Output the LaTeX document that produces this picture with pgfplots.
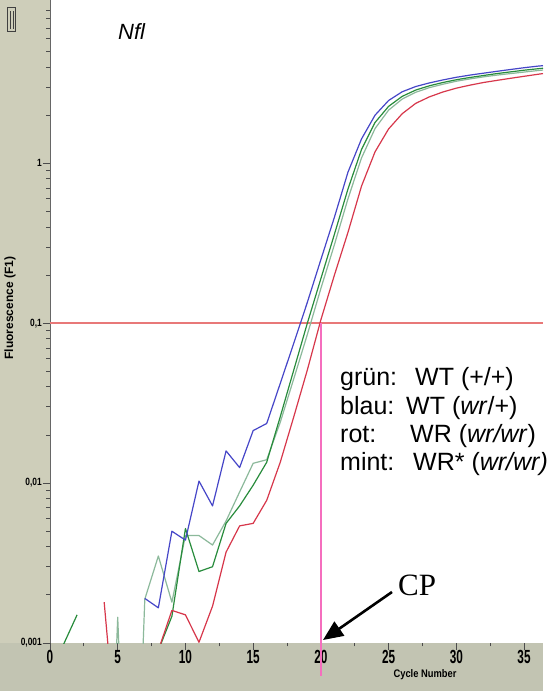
\documentclass[border=0pt]{standalone}
\usepackage{fontspec}
\setmainfont{Liberation Sans}
\newfontfamily\cpfont{Liberation Serif}
\newfontfamily\xtickfont[FakeStretch=0.62]{Liberation Sans}
\newfontfamily\ytickfont[FakeStretch=0.8]{Liberation Sans}
\usepackage{pgfplots}
\pgfplotsset{compat=1.18}
\usetikzlibrary{arrows.meta}
\definecolor{stripL}{RGB}{206,206,186}
\definecolor{stripB}{RGB}{194,196,178}
\definecolor{cblue}{RGB}{70,70,200}
\definecolor{cgreen}{RGB}{40,140,60}
\definecolor{cmint}{RGB}{140,185,155}
\definecolor{cred}{RGB}{215,55,75}
\definecolor{thr}{RGB}{232,120,120}
\definecolor{cppink}{RGB}{245,110,190}
\begin{document}
\begin{tikzpicture}
\useasboundingbox (-50pt,-48pt) rectangle (508pt,643pt);
\fill[white] (-50pt,-48pt) rectangle (508pt,643pt);
\fill[stripL] (-50pt,-48pt) rectangle (0pt,643pt);
\fill[stripB] (-50pt,-48pt) rectangle (493pt,0pt);
\begin{axis}[scale only axis,width=493pt,height=643pt,at={(0pt,0pt)},anchor=south west,
  xmin=0,xmax=36.4,ymin=0.001,ymax=10.5,ymode=log,
  axis lines*=left,x axis line style={draw=none},y axis line style={draw=black!60,line width=0.8pt},
  xtick={0,5,...,35},xticklabels={0,5,10,15,20,25,30,35},minor x tick num=1,
  ytick={0.001,0.01,0.1,1},yticklabels={{0,001},{0,01},{0,1},{1}},
  minor ytick={0.002,0.003,0.004,0.005,0.006,0.007,0.008,0.009,0.02,0.03,0.04,0.05,0.06,0.07,0.08,0.09,0.2,0.3,0.4,0.5,0.6,0.7,0.8,0.9,2,3,4,5,6,7,8,9},
  tick align=outside,major tick length=7pt,minor tick length=3.5pt,
  tick style={black!70,line width=0.8pt},
  xticklabel style={font=\xtickfont\bfseries\fontsize{19}{19}\selectfont,inner sep=0.5pt},
  yticklabel style={font=\ytickfont\bfseries\fontsize{10.5}{10.5}\selectfont,inner sep=1pt},
  unbounded coords=jump,
  every axis plot/.append style={line width=1.2pt,line join=round}]
\addplot[thr,line width=1.6pt] coordinates {(0,0.1)(36.4,0.1)};
% mint
\addplot[cmint] coordinates {(4,0.00001)(5,0.00145)(6,0.00001)(7,0.00188)(8,0.0035)(9,0.0018)(10,0.0047)
 (11,0.0047)(12,0.0041)(13,0.0058)(14,0.0088)(15,0.0133)(16,0.014)(17,0.024)(18,0.045)(19,0.085)
 (20,0.165)(21,0.31)(22,0.60)(23,1.08)(24,1.65)(25,2.15)(26,2.52)(27,2.78)(28,2.97)(29,3.12)(30,3.26)
 (31,3.37)(32,3.47)(33,3.56)(34,3.64)(35,3.72)(36,3.8)(36.4,3.83)};
% green
\addplot[cgreen] coordinates {(1,0.00098)(2,0.0015)(3,nan)(8,0.0009)(9,0.00147)(10,0.0052)(11,0.0028)
 (12,0.0030)(13,0.0056)(14,0.0072)(15,0.0097)(16,0.0135)(17,0.026)(18,0.051)(19,0.1)(20,0.19)
 (21,0.36)(22,0.69)(23,1.22)(24,1.8)(25,2.27)(26,2.62)(27,2.87)(28,3.05)(29,3.2)(30,3.33)(31,3.44)
 (32,3.54)(33,3.64)(34,3.73)(35,3.82)(36,3.9)(36.4,3.93)};
% red
\addplot[cred] coordinates {(4,0.0018)(5,0.0002)(6,nan)(8,0.0009)(9,0.0016)(10,0.0015)(11,0.00101)
 (12,0.0017)(13,0.0037)(14,0.0054)(15,0.0056)(16,0.0078)(17,0.0135)(18,0.026)(19,0.051)(20,0.105)
 (21,0.2)(22,0.37)(23,0.72)(24,1.18)(25,1.64)(26,2.04)(27,2.37)(28,2.6)(29,2.79)(30,2.95)(31,3.08)
 (32,3.2)(33,3.3)(34,3.4)(35,3.5)(36,3.6)(36.4,3.64)};
% blue
\addplot[cblue] coordinates {(7,0.0019)(8,0.00166)(9,0.0050)(10,0.0044)(11,0.0103)(12,0.0072)
 (13,0.0159)(14,0.0125)(15,0.0213)(16,0.0236)(17,0.042)(18,0.075)(19,0.135)(20,0.25)(21,0.46)
 (22,0.88)(23,1.42)(24,2.0)(25,2.47)(26,2.8)(27,3.02)(28,3.18)(29,3.32)(30,3.45)(31,3.56)(32,3.66)
 (33,3.76)(34,3.86)(35,3.96)(36,4.05)(36.4,4.08)};
\coordinate (cptop) at (axis cs:20,0.1);
\coordinate (cpbot) at (axis cs:20,0.001);
\end{axis}
\draw[cppink,line width=1.3pt] (cptop) -- ([yshift=-33pt]cpbot);
\draw[line width=2.6pt,-{Triangle[length=20pt,width=17pt]}] (342pt,51pt) -- (273pt,3pt);
\node[anchor=base west,inner sep=0pt,font=\cpfont\fontsize{31}{31}\selectfont] at (348pt,48pt) {CP};
\node[font=\bfseries\fontsize{11}{11}\selectfont,xscale=0.85] at (375pt,-32pt) {Cycle Number};
\node[font=\bfseries\fontsize{12}{12}\selectfont,rotate=90] at (-40pt,335pt) {Fluorescence (F1)};
\node[anchor=base west,inner sep=0pt,font=\itshape\fontsize{22}{22}\selectfont] at (68pt,603pt) {Nfl};
\begin{scope}[every node/.style={anchor=base west,inner sep=0pt,font=\fontsize{25}{25}\selectfont}]
\node at (290pt,257pt) {grün:};
\node at (365pt,257pt) {WT (+/+)};
\node at (290pt,228pt) {blau:};
\node at (356pt,228pt) {WT (\textit{wr}/+)};
\node at (290pt,200pt) {rot:};
\node at (360pt,200pt) {WR (\textit{wr/wr})};
\node at (290pt,172pt) {mint:};
\node at (363pt,172pt) {WR* (\textit{wr/wr)}};
\end{scope}
\draw[black!75,line width=1pt] (-42pt,611pt) rectangle (-34pt,635pt);
\draw[black!75,line width=0.8pt] (-39.5pt,614pt) -- (-39.5pt,632pt) (-36.5pt,614pt) -- (-36.5pt,632pt);
\end{tikzpicture}
\end{document}
